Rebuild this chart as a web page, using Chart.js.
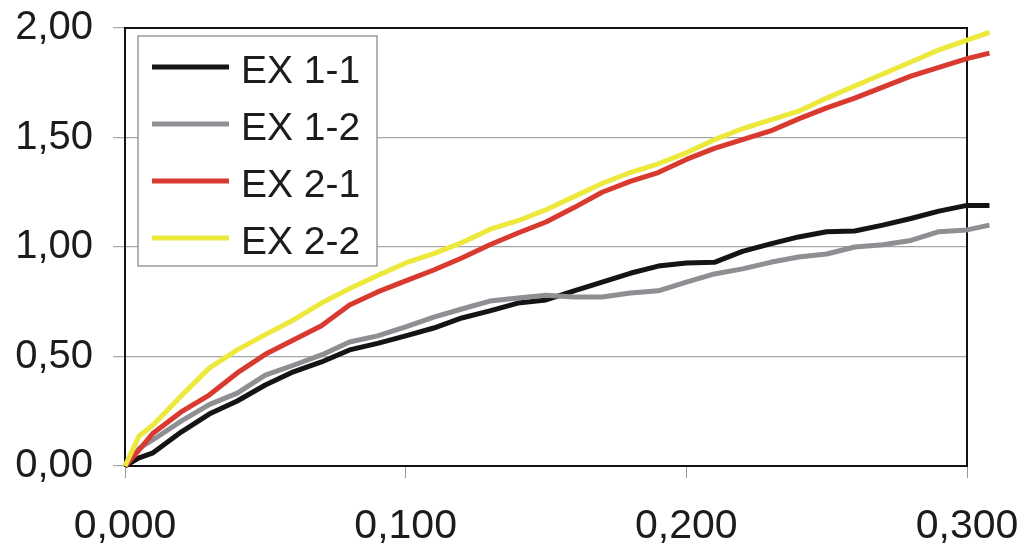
<!DOCTYPE html>
<html>
<head>
<meta charset="utf-8">
<script src="https://cdn.jsdelivr.net/npm/chart.js@4/dist/chart.umd.min.js"></script>
<style>
  body { margin: 0; background: #fff; }
  #wrap { width: 1028px; height: 544px; }
</style>
</head>
<body>
<div id="wrap"><canvas id="c" width="1028" height="544"></canvas></div>
<script>
// x positions of the readings
const xValues = [0, 0.005, 0.01, 0.02, 0.03, 0.04, 0.05, 0.06, 0.07, 0.08, 0.09, 0.10,
  0.11, 0.12, 0.13, 0.14, 0.15, 0.16, 0.17, 0.18, 0.19, 0.20,
  0.21, 0.22, 0.23, 0.24, 0.25, 0.26, 0.27, 0.28, 0.29, 0.30, 0.308];

const ex11 = [0, 0.037, 0.06, 0.155, 0.237, 0.297, 0.37, 0.43, 0.475, 0.53, 0.56, 0.594,
  0.63, 0.676, 0.708, 0.744, 0.758, 0.80, 0.84, 0.88, 0.913, 0.927,
  0.93, 0.98, 1.014, 1.046, 1.07, 1.073, 1.10, 1.13, 1.164, 1.19, 1.19];

const ex12 = [0, 0.08, 0.12, 0.205, 0.28, 0.333, 0.415, 0.46, 0.507, 0.566, 0.594, 0.635,
  0.68, 0.717, 0.753, 0.767, 0.78, 0.772, 0.772, 0.79, 0.80, 0.84,
  0.877, 0.90, 0.93, 0.954, 0.968, 1.00, 1.01, 1.03, 1.07, 1.078, 1.10];

const ex21 = [0, 0.073, 0.15, 0.247, 0.324, 0.425, 0.51, 0.575, 0.64, 0.735, 0.795, 0.845,
  0.895, 0.95, 1.01, 1.064, 1.114, 1.18, 1.25, 1.30, 1.34, 1.40,
  1.45, 1.49, 1.53, 1.585, 1.635, 1.68, 1.73, 1.78, 1.82, 1.86, 1.885];

const ex22 = [0, 0.137, 0.187, 0.32, 0.447, 0.53, 0.60, 0.667, 0.744, 0.81, 0.87, 0.927,
  0.97, 1.02, 1.08, 1.12, 1.17, 1.23, 1.29, 1.34, 1.38, 1.43,
  1.49, 1.54, 1.58, 1.62, 1.68, 1.735, 1.79, 1.845, 1.90, 1.945, 1.98];

const seriesNames = ['EX 1-1', 'EX 1-2', 'EX 2-1', 'EX 2-2'];
const seriesColors = ['#141414', '#8e8f93', '#d93a30', '#ece93c'];
const seriesValues = [ex11, ex12, ex21, ex22];

const FONT = '"Liberation Sans", Arial, sans-serif';
const TEXT = '#1c1c1c';

function toPoints(vals) {
  return vals.map((v, i) => ({ x: xValues[i], y: v }));
}

// plot frame drawn under the curves
const frame = {
  id: 'frame',
  beforeDatasetsDraw(chart) {
    const a = chart.chartArea, ctx = chart.ctx;
    ctx.save();
    ctx.strokeStyle = '#111';
    ctx.lineWidth = 2;
    ctx.strokeRect(a.left, a.top, a.right - a.left, a.bottom - a.top);
    ctx.restore();
  }
};

// boxed legend inside the plot, top-left
const boxLegend = {
  id: 'boxLegend',
  afterDatasetsDraw(chart) {
    const a = chart.chartArea, ctx = chart.ctx;
    const bx = a.left + 13, by = a.top + 8, bw = 239, bh = 230;
    ctx.save();
    ctx.fillStyle = '#fff';
    ctx.fillRect(bx, by, bw, bh);
    ctx.strokeStyle = '#9a9a9a';
    ctx.lineWidth = 1.5;
    ctx.strokeRect(bx, by, bw, bh);
    ctx.font = '39px ' + FONT;
    ctx.textBaseline = 'alphabetic';
    ctx.fillStyle = TEXT;
    chart.data.datasets.forEach((ds, i) => {
      const cy = by + 31 + i * 57;
      ctx.strokeStyle = ds.borderColor;
      ctx.lineWidth = 5;
      ctx.beginPath();
      ctx.moveTo(bx + 14, cy);
      ctx.lineTo(bx + 91, cy);
      ctx.stroke();
      ctx.fillText(ds.label, bx + 103, cy + 16);
    });
    ctx.restore();
  }
};

new Chart(document.getElementById('c'), {
  type: 'line',
  data: {
    datasets: seriesNames.map((name, i) => ({
      label: name,
      data: toPoints(seriesValues[i]),
      borderColor: seriesColors[i],
      backgroundColor: seriesColors[i],
      borderWidth: 5,
      pointRadius: 0,
      tension: 0,
      borderJoinStyle: 'round',
      clip: false,
      order: 4 - i
    }))
  },
  options: {
    responsive: false,
    animation: false,
    layout: { padding: { top: 28, right: 61, left: 0, bottom: 0 } },
    plugins: { legend: { display: false }, tooltip: { enabled: false } },
    scales: {
      x: {
        type: 'linear',
        // range set after data limits so the curves can run past the frame
        afterDataLimits: s => { s.min = 0; s.max = 0.3; },
        afterFit: s => { s.height = 78; s.paddingLeft = 0; s.paddingRight = 0; },
        grid: { drawOnChartArea: false, drawTicks: true, tickLength: 12, color: '#9a9a9a' },
        border: { display: false },
        ticks: {
          stepSize: 0.1,
          padding: 24,
          color: TEXT,
          font: { family: FONT, size: 41 },
          maxRotation: 0,
          callback: v => v.toFixed(3).replace('.', ',')
        }
      },
      y: {
        min: 0, max: 2,
        afterFit: s => { s.width = 125; s.paddingTop = 0; s.paddingBottom = 0; },
        grid: { color: '#a6a6a6', lineWidth: 1.2, tickLength: 12 },
        border: { display: false },
        ticks: {
          stepSize: 0.5,
          padding: 20,
          color: TEXT,
          font: { family: FONT, size: 40 },
          callback: v => v.toFixed(2).replace('.', ',')
        }
      }
    }
  },
  plugins: [frame, boxLegend]
});
</script>
</body>
</html>
